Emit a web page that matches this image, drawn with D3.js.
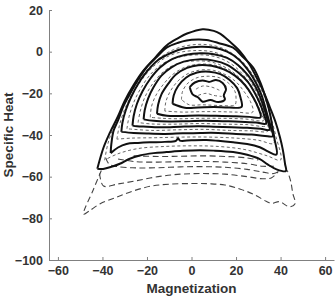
<!DOCTYPE html>
<html>
<head>
<meta charset="utf-8">
<script src="https://cdn.jsdelivr.net/npm/d3@7"></script>
<style>
body { margin:0; background:white; }
text { font-family:"Liberation Sans", Arial, sans-serif; font-weight:bold; fill:#333; }
</style>
</head>
<body>
<div id="chart"></div>
<script>
//tick values on each axis
var xTicks = [-60,-40,-20,0,20,40,60];
var yTicks = [-100,-80,-60,-40,-20,0,20];

//solid contours, outermost first as [magnetization, specific heat]
var solid1 = [[-42.3,-56.2],[-39.5,-46],[-36.7,-39],[-33,-31],[-30,-23.6],[-26,-16],[-21.7,-9.2],[-16,-2.5],[-11.2,3],[-6,6.5],[-2,8.7],[5,10.8],[10,10],[13,8.5],[17,5],[21.7,0.3],[26,-6],[29.2,-12.4],[32.5,-19.5],[35.2,-26.7],[37.8,-34],[39.7,-41],[41,-47],[42,-53.8],[42.4,-57.3],[38.2,-56.5],[34,-54],[30.7,-51.6],[25,-49.5],[18.7,-48.2],[10,-47.5],[3.7,-47.3],[-4,-47.6],[-11.2,-48.2],[-17,-48.7],[-23.2,-49.8],[-28,-51.5],[-32.2,-53.8],[-36,-55.3],[-39.7,-56.3],[-42.3,-56.2]];
var solid2 = [[-36.3,-48.7],[-36,-44.3],[-35,-38],[-33,-33],[-30.5,-26],[-27.7,-20.4],[-24,-13.5],[-20.2,-7.6],[-15.5,-2.5],[-11.2,1.9],[-6,4.3],[-2.2,5.4],[3,5.8],[6.7,5.6],[12,4.2],[18.7,1.9],[23,-2.5],[27.7,-7.6],[31,-15],[33.7,-23.6],[35.3,-30],[36.3,-36],[37.3,-42],[38.2,-49.4],[34.5,-48],[30.7,-45.9],[25,-44.3],[18.7,-43.5],[12,-42.8],[6.7,-42.4],[0,-42.5],[-5.2,-42.7],[-6,-41.6],[-7,-42.8],[-12,-43.3],[-18.7,-43.5],[-24,-43.8],[-29.2,-44.3],[-33,-46],[-36.3,-48.7]];
var solid3 = [[-31.5,-38.5],[-31,-34],[-29.5,-28],[-27,-21.5],[-24,-15.5],[-20,-9.5],[-15,-4],[-9,-0.5],[-3,1.6],[4,2.4],[10,2],[16,0],[21,-3.5],[25.5,-9],[29,-15],[31.5,-21],[33.2,-27],[34.5,-32],[35.7,-36.5],[36.5,-40.5],[33,-40.5],[27,-39.8],[20,-39.5],[12,-39],[4,-39],[-4,-39.2],[-12,-39.5],[-20,-39.3],[-26,-39],[-31.5,-38.5]];
var solid4 = [[-26.5,-35.5],[-26,-31],[-24.5,-25],[-22,-19],[-18.5,-13],[-14,-7.5],[-8.5,-3.5],[-2.5,-1.5],[4,-0.8],[10,-1.2],[16,-3],[21,-6.5],[25.5,-11.5],[28.8,-17],[31.3,-23],[33,-28.5],[34.2,-33],[35,-37.5],[31,-37],[25,-36.5],[18,-36.3],[10,-36],[3,-35.8],[-5,-36],[-13,-36.3],[-20,-36],[-24.5,-35.8],[-26.5,-35.5]];
var solid5 = [[-21.5,-32.5],[-21,-28],[-19.5,-22.5],[-17,-17],[-13.5,-11.5],[-9,-7.5],[-3.5,-4.8],[3,-3.7],[10,-4.3],[16,-6.3],[21,-10],[25.3,-14.5],[28.5,-20],[31,-25.5],[32.5,-30],[33.5,-34.5],[29,-34],[22,-33.6],[14,-33.4],[6,-33.2],[-2,-33.4],[-10,-33.5],[-17,-33.2],[-21.5,-32.5]];
var solid6 = [[-15.5,-29.8],[-15,-25.5],[-13.5,-20.5],[-10.5,-15.5],[-7,-11],[-2,-7.8],[3,-6.5],[9,-6.8],[14.5,-8.5],[19.5,-11.5],[24,-16],[27.5,-21.5],[30,-27],[31,-31.5],[26,-31.3],[19,-31],[11,-30.8],[3,-30.6],[-5,-30.9],[-11,-30.8],[-15.5,-29.8]];
var solid7 = [[-8.5,-25],[-8,-21],[-6,-16.5],[-2.5,-12.5],[2.5,-10],[8,-9.6],[13,-10.8],[17,-13.5],[20.5,-17.5],[22,-22],[22.5,-26.5],[17,-26.8],[10,-26.6],[3,-26.8],[-3,-26.9],[-8.5,-25]];
var solid8 = [[-0.8,-17],[1.5,-14.8],[5,-13.8],[8,-14.5],[11,-13.6],[14,-15],[15.5,-18],[14.5,-21],[15,-23],[12,-24.2],[8.5,-23.2],[5,-24],[3,-22],[0.5,-20.5],[-0.8,-17]];

//dashed contours below the solid ones
var dash1 = [[-40.5,-57],[-44,-66],[-48.5,-78],[-46,-76.5],[-41,-73],[-34,-70],[-26,-66.8],[-18,-64.5],[-10,-63.6],[0,-63.3],[8,-63.4],[15,-64],[22,-66],[28,-68.5],[33.5,-71.8],[36,-72.8],[39.5,-72],[44,-74.5],[46.5,-73],[45.5,-68],[44.5,-62],[43,-57]];
var dash2 = [[-41.3,-58.5],[-39.5,-64.5],[-33,-63.5],[-25,-62],[-15,-60],[-5,-58.8],[5,-58.5],[15,-58.8],[25,-60],[32,-61],[36,-60.5],[39,-57.5]];
var dash3 = [[-38.5,-51],[-37,-54],[-33,-55.2],[-25,-55.8],[-15,-55.7],[-5,-55.3],[5,-55.2],[15,-55.5],[25,-56.5],[32,-57.8],[37,-58.5],[40,-57]];
var dash4 = [[-33,-51.5],[-25,-52.8],[-15,-53],[-5,-52.8],[5,-52.7],[15,-53],[25,-53.8],[32,-55],[37,-55]];
var dash5 = [[-26,-50],[-15,-50.3],[-5,-50.2],[5,-50],[15,-50.3],[25,-51],[30,-52]];

//dashed contours that sit between the solid ones (the hatching)
var inner1 = [[-39,-52],[-37.5,-44],[-34.5,-35],[-30,-25],[-24.5,-15],[-17,-5.5],[-8,1],[3,3.5],[13,2],[21,-3],[27.5,-11],[32.5,-21],[35.5,-31],[38,-41],[40,-52],[34,-50],[24,-47],[12,-45.5],[0,-45.2],[-12,-45.5],[-24,-46.5],[-33,-49],[-39,-52]];
var inner2 = [[-33.5,-42],[-32.5,-36],[-30.5,-29],[-27.5,-22],[-23,-14.5],[-17,-7],[-9,-1.5],[1,0.5],[11,-0.5],[19,-5],[25,-12],[29.5,-20],[32.5,-28],[34.5,-35],[37,-44],[30,-42.5],[20,-41.5],[8,-41],[-4,-41],[-16,-41.3],[-27,-41.5],[-33.5,-42]];
var inner3 = [[-29,-37],[-28,-31],[-26,-24.5],[-23,-18],[-18.5,-11],[-12.5,-5.5],[-5,-2.5],[3,-1.5],[11,-2.5],[18,-6],[23.5,-11.5],[27.5,-18],[30.5,-25],[32.5,-31],[34.5,-38],[27,-38],[17,-37.8],[6,-37.3],[-6,-37.5],[-18,-37.8],[-29,-37]];
var inner4 = [[-24,-34],[-23,-28.5],[-21,-22],[-17.5,-15.5],[-12.5,-9.5],[-6.5,-5.8],[1,-4.5],[9,-5],[16,-8],[21.5,-12.5],[25.5,-18],[29,-24],[31.5,-30],[33.5,-35.5],[25,-35],[15,-34.8],[4,-34.5],[-8,-34.8],[-18,-34.7],[-24,-34]];
var inner5 = [[-18.5,-31.5],[-18,-26.5],[-16,-21],[-12.5,-15.5],[-8.5,-11],[-3,-7.5],[3.5,-6],[10.5,-6.5],[16.5,-9],[21.5,-13],[25.5,-18.5],[28.5,-24],[31,-29.5],[32.5,-33],[24,-32.3],[14,-32],[4,-32],[-6,-32.2],[-13,-32],[-18.5,-31.5]];
var inner6 = [[-12,-28.5],[-11.5,-24],[-9.5,-19],[-6,-14],[-1.5,-10.5],[4,-8.8],[10,-9],[15.5,-11.2],[20,-14.5],[23.5,-19],[26.5,-24],[27.5,-29],[20,-29],[12,-28.8],[4,-28.8],[-4,-29],[-12,-28.5]];
var inner7 = [[-4.5,-23],[-4,-19],[-1.5,-15],[2.5,-12.5],[7.5,-11.8],[12.5,-12.5],[16.5,-15],[19.5,-19],[20,-23],[19.5,-25.5],[12,-25.8],[5,-25.5],[-1,-25.5],[-4.5,-23]];
var inner8 = [[2,-18],[5,-16.5],[9,-17],[12.5,-18.5]];
var inner9 = [[3,-21],[6.5,-20],[10,-21],[13.5,-21.5]];

var solidLines = [solid1,solid2,solid3,solid4,solid5,solid6,solid7,solid8];
var dashLines = [dash1,dash2,dash3,dash4,dash5];
var innerLines = [inner1,inner2,inner3,inner4,inner5,inner6,inner7,inner8,inner9];

var screen = {width:336, height:302};
var margins = {top:10, left:49, right:2, bottom:42};
var graph =
{
    width:screen.width-margins.left-margins.right,
    height:screen.height-margins.top-margins.bottom
};

var svg = d3.select("#chart")
    .append("svg")
    .attr("width",screen.width)
    .attr("height",screen.height);

var xScale = d3.scaleLinear()
    .domain([-64,64])
    .range([margins.left, margins.left+graph.width]);

var yScale = d3.scaleLinear()
    .domain([-100,20])
    .range([margins.top+graph.height, margins.top]);

var line = d3.line()
    .x(function(p){ return xScale(p[0]); })
    .y(function(p){ return yScale(p[1]); })
    .curve(d3.curveCatmullRom.alpha(0.5));

//hatching first, then dashed, then solid on top
svg.append("g")
    .selectAll("path")
    .data(innerLines)
    .enter()
    .append("path")
    .attr("d",line)
    .attr("fill","none")
    .attr("stroke","#555")
    .attr("stroke-width",0.9)
    .attr("stroke-dasharray","3,2.5");

svg.append("g")
    .selectAll("path")
    .data(dashLines)
    .enter()
    .append("path")
    .attr("d",line)
    .attr("fill","none")
    .attr("stroke","#444")
    .attr("stroke-width",1.1)
    .attr("stroke-dasharray","6,3.5");

svg.append("g")
    .selectAll("path")
    .data(solidLines)
    .enter()
    .append("path")
    .attr("d",line)
    .attr("fill","none")
    .attr("stroke","#111")
    .attr("stroke-width",2)
    .attr("stroke-linejoin","round");

//axes, ticks point inward
var xAxis = d3.axisBottom(xScale)
    .tickValues(xTicks)
    .tickSizeInner(-3)
    .tickSizeOuter(0)
    .tickPadding(6);

var yAxis = d3.axisLeft(yScale)
    .tickValues(yTicks)
    .tickSizeInner(-3)
    .tickSizeOuter(0)
    .tickPadding(6);

var gx = svg.append("g")
    .attr("transform","translate(0,"+(margins.top+graph.height)+")")
    .call(xAxis);

var gy = svg.append("g")
    .attr("transform","translate("+margins.left+",0)")
    .call(yAxis);

[gx,gy].forEach(function(g)
{
    g.select(".domain").attr("stroke","#808080");
    g.selectAll(".tick line").attr("stroke","#808080");
    g.selectAll(".tick text")
        .attr("fill","#333")
        .style("font-size","12.5px")
        .style("font-family","'Liberation Sans', Arial, sans-serif")
        .style("font-weight","bold");
});

svg.append("text")
    .attr("x",xScale(0))
    .attr("y",293)
    .attr("text-anchor","middle")
    .style("font-size","13.5px")
    .text("Magnetization");

svg.append("text")
    .attr("transform","translate(12.5,"+yScale(-40)+") rotate(-90)")
    .attr("text-anchor","middle")
    .style("font-size","13.5px")
    .text("Specific Heat");
</script>
</body>
</html>
